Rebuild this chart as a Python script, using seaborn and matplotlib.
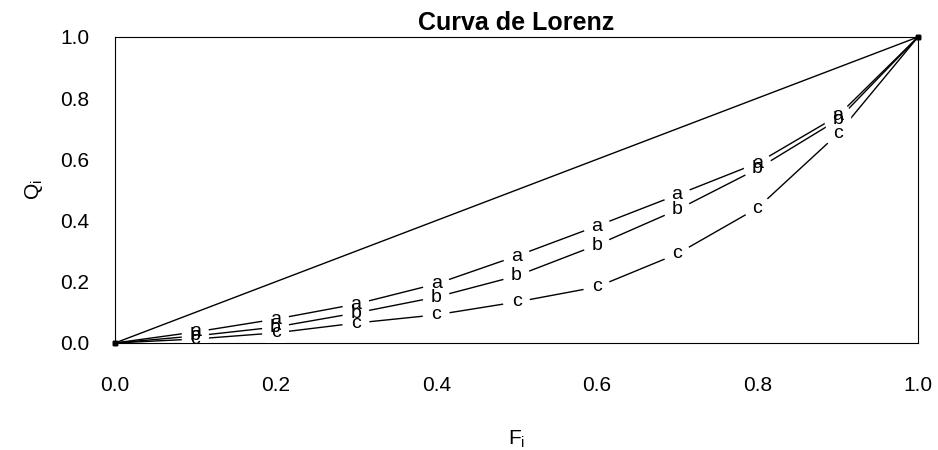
import numpy as np
import pandas as pd
import seaborn as sns
import matplotlib
matplotlib.use("Agg")
import matplotlib.pyplot as plt

# proporcion acumulada de poblacion
F = [0.0, 0.1, 0.2, 0.3, 0.4, 0.5, 0.6, 0.7, 0.8, 0.9, 1.0]
# proporcion acumulada de renta, tres distribuciones
Q_a = [0.0, 0.036, 0.078, 0.127, 0.193, 0.284, 0.382, 0.484, 0.588, 0.742, 1.0]
Q_b = [0.0, 0.023, 0.052, 0.098, 0.150, 0.219, 0.320, 0.435, 0.569, 0.729, 1.0]
Q_c = [0.0, 0.013, 0.033, 0.065, 0.092, 0.134, 0.183, 0.291, 0.441, 0.683, 1.0]
labels = ['a', 'b', 'c']
ticks = [0.0, 0.2, 0.4, 0.6, 0.8, 1.0]

sns.set_style("white")
plt.rcParams['font.family'] = ['Liberation Sans', 'DejaVu Sans']
plt.rcParams['text.color'] = 'black'
plt.rcParams['axes.labelcolor'] = 'black'

fig = plt.figure(figsize=(9.38, 4.5), dpi=100)
ax = fig.add_axes([0.1226, 0.2378, 0.8561, 0.68])

# linea de igualdad
sns.lineplot(x=[0, 1], y=[0, 1], color='black', linewidth=1.0, ax=ax)

series = {'a': Q_a, 'b': Q_b, 'c': Q_c}
for lab in labels:
    q = series[lab]
    sns.lineplot(x=F, y=q, color='black', linewidth=1.0, sort=False, ax=ax, zorder=2)

# huecos alrededor de las letras (tipo "b" de R)
for lab in labels:
    q = series[lab]
    ax.scatter(F[1:-1], q[1:-1], s=380, color='white', edgecolors='none', zorder=3)

for lab in labels:
    q = series[lab]
    for x, y in zip(F[1:-1], q[1:-1]):
        ax.text(x, y, lab, ha='center', va='center', fontsize=14, zorder=4)
    ax.scatter([F[0], F[-1]], [q[0], q[-1]], s=10, marker='s', color='black',
               zorder=4, clip_on=False)

ax.set_xlim(0, 1)
ax.set_ylim(0, 1)
ax.set_xticks(ticks)
ax.set_yticks(ticks)
ax.set_xticklabels([f'{t:.1f}' for t in ticks])
ax.set_yticklabels([f'{t:.1f}' for t in ticks])
ax.tick_params(axis='both', direction='out', length=9.5, width=0.8, labelsize=15,
               color='black', labelcolor='black')
ax.tick_params(axis='x', pad=14)
ax.tick_params(axis='y', pad=9)
for s in ax.spines.values():
    s.set_color('black')
    s.set_linewidth(0.8)

ax.set_xlabel(r'F$_\mathregular{i}$', fontsize=15, labelpad=24)
ax.set_ylabel(r'Q$_\mathregular{i}$', fontsize=15, labelpad=11)
ax.set_title('Curva de Lorenz', fontsize=18, fontweight='bold', pad=5, color='black')

fig.savefig('out.png', dpi=100)
